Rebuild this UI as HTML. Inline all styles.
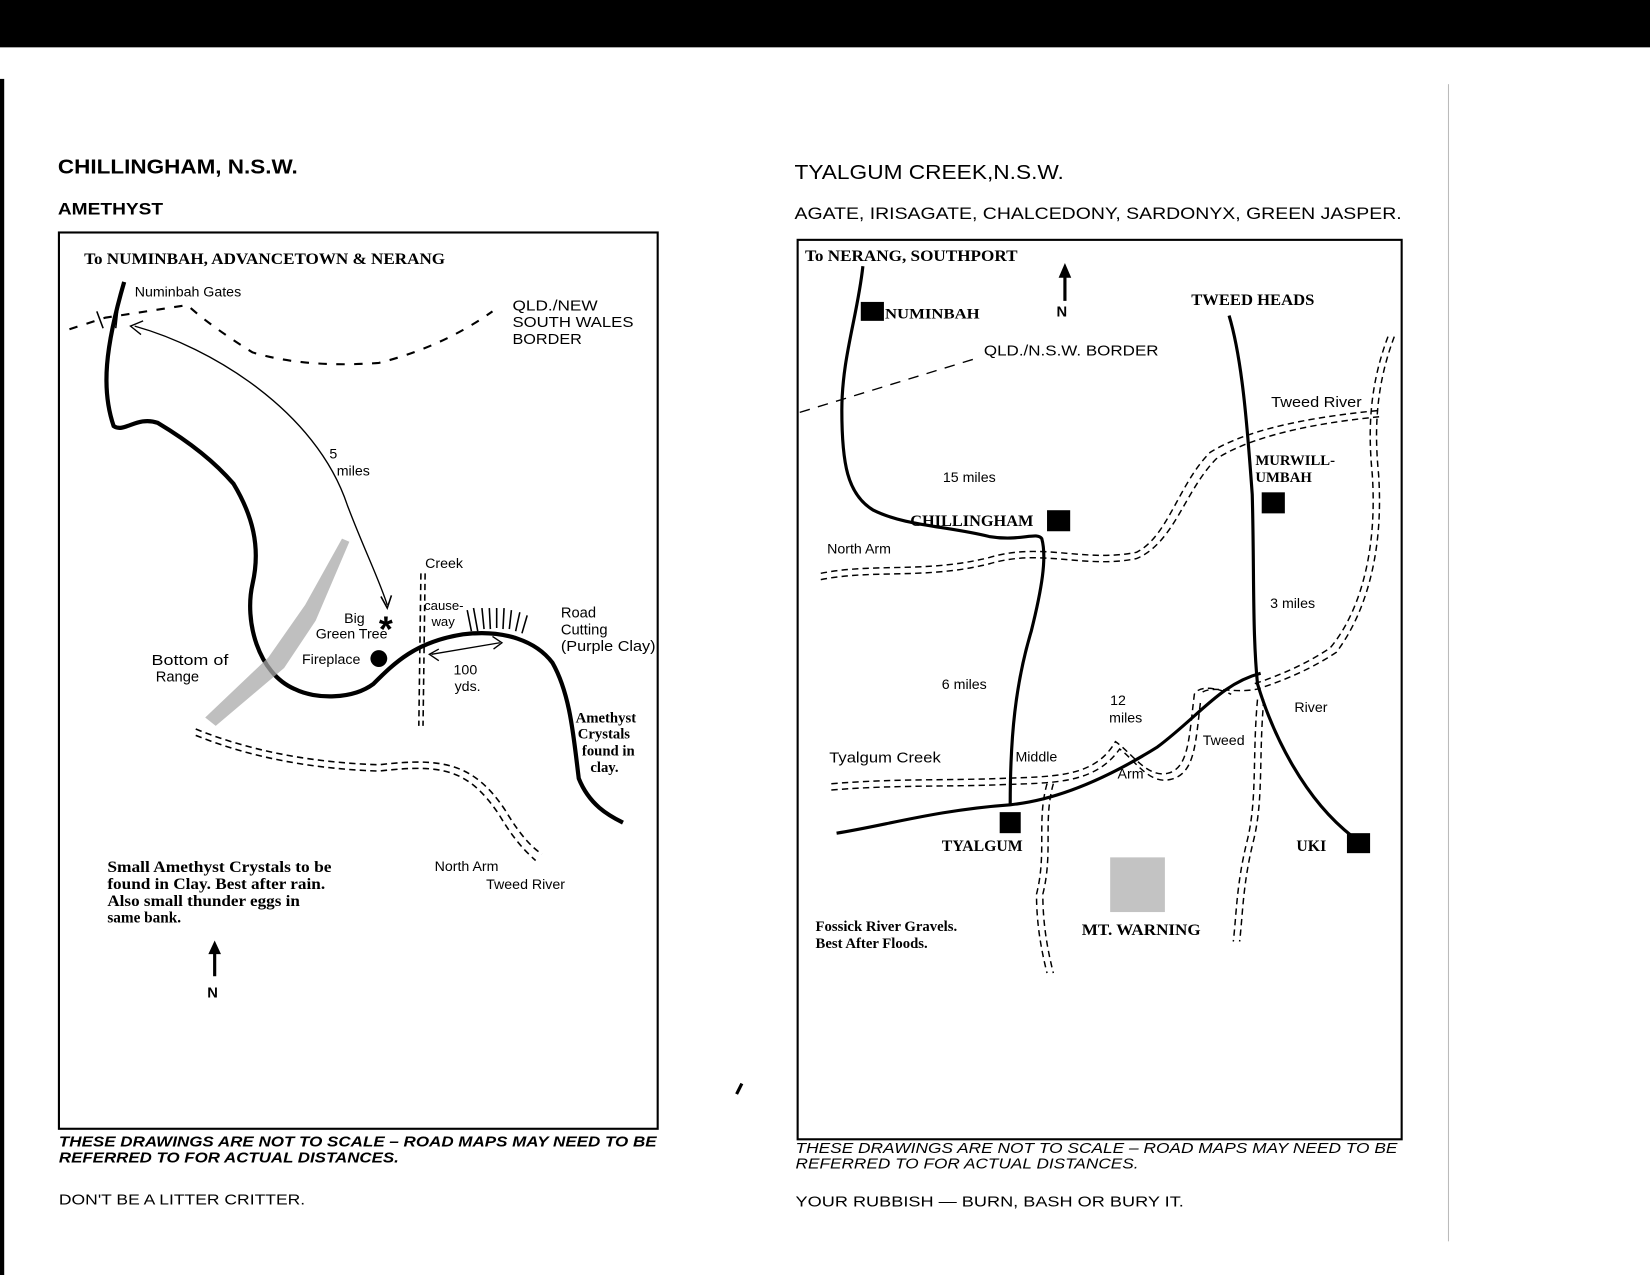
<!DOCTYPE html>
<html><head><meta charset="utf-8"><style>
html,body{margin:0;padding:0;background:#fff;}
svg{display:block;}
text{font-family:"Liberation Sans",sans-serif;fill:#000;}
.s{font-family:"Liberation Serif",serif;font-weight:bold;}
</style></head><body>
<svg width="1650" height="1275" viewBox="0 0 1568 1212" preserveAspectRatio="none" xmlns="http://www.w3.org/2000/svg">
<rect x="0" y="0" width="1568" height="45" fill="#000"/>
<rect x="0" y="75" width="4" height="1137" fill="#000"/>
<rect x="1376" y="80" width="1" height="1100" fill="#bbb"/>
<text x="55" y="165" font-size="19" font-weight="bold" textLength="228" lengthAdjust="spacingAndGlyphs">CHILLINGHAM, N.S.W.</text>
<text x="55" y="204" font-size="16" font-weight="bold" textLength="100" lengthAdjust="spacingAndGlyphs">AMETHYST</text>
<text x="755" y="170" font-size="19" textLength="256" lengthAdjust="spacingAndGlyphs">TYALGUM CREEK,N.S.W.</text>
<text x="755" y="208" font-size="16" textLength="577" lengthAdjust="spacingAndGlyphs">AGATE, IRISAGATE, CHALCEDONY, SARDONYX, GREEN JASPER.</text>
<rect x="56" y="221" width="569" height="852" fill="none" stroke="#000" stroke-width="2"/>
<rect x="758" y="228" width="574" height="855" fill="none" stroke="#000" stroke-width="2"/>

<text x="80" y="251" class="s" font-size="15.5" textLength="343" lengthAdjust="spacingAndGlyphs">To NUMINBAH, ADVANCETOWN &amp; NERANG</text>
<text x="128" y="282" font-size="13.5">Numinbah Gates</text>
<text x="487" y="295" font-size="14" textLength="81" lengthAdjust="spacingAndGlyphs">QLD./NEW</text>
<text x="487" y="311" font-size="14" textLength="115" lengthAdjust="spacingAndGlyphs">SOUTH WALES</text>
<text x="487" y="327" font-size="14" textLength="66" lengthAdjust="spacingAndGlyphs">BORDER</text>
<path d="M66,313 L100,302 L178,290 Q200,310 240,335 Q290,350 360,345 Q420,330 468,296" fill="none" stroke="#000" stroke-width="2" stroke-dasharray="8,9"/>
<path d="M92,296 L98,312 M112,294 L110,312" stroke="#000" stroke-width="1.5"/>
<path d="M118,268 C100,330 96,370 108,405 C118,412 130,395 150,402 C180,420 205,440 222,460 C240,490 248,520 240,555 C232,590 245,640 280,655 C300,665 335,665 355,650 C375,630 395,610 440,603 C480,598 510,610 525,630 C542,660 545,700 550,740 C560,765 578,775 592,782" fill="none" stroke="#000" stroke-width="4"/>
<path d="M128,310 C200,330 300,390 330,480 C345,520 360,550 368,575" fill="none" stroke="#000" stroke-width="1.3"/>
<path d="M136,305 L124,310 L134,318" fill="none" stroke="#000" stroke-width="1.3"/>
<path d="M362,567 L368,578 L372,566" fill="none" stroke="#000" stroke-width="1.5"/>
<text x="313" y="436" font-size="13.5">5</text>
<text x="320" y="452" font-size="13.5">miles</text>
<path d="M325,512 L332,515 L300,590 L270,635 L205,690 L195,682 L255,625 L290,575 Z" fill="#aaa" opacity="0.75"/>
<text x="144" y="632" font-size="14" textLength="73" lengthAdjust="spacingAndGlyphs">Bottom of</text>
<text x="148" y="648" font-size="14">Range</text>
<text x="404" y="540" font-size="13.5">Creek</text>
<text x="403" y="580" font-size="12.5">cause-</text>
<text x="410" y="595" font-size="12.5">way</text>
<text x="327" y="592" font-size="13.5">Big</text>
<text x="300" y="607" font-size="13.5">Green Tree</text>
<text x="360" y="610" font-size="34" font-weight="bold">*</text>
<text x="287" y="631" font-size="13.5">Fireplace</text>
<circle cx="360" cy="626" r="8" fill="#000"/>
<path d="M400,545 L398,690 M404,545 L402,690" stroke="#000" stroke-width="1.5" stroke-dasharray="6,4"/>
<path d="M410,622 L475,611" stroke="#000" stroke-width="1.3"/>
<path d="M417,617 L408,622 L417,628 M468,605 L477,611 L469,617" fill="none" stroke="#000" stroke-width="1.3"/>
<text x="431" y="641" font-size="13.5">100</text>
<text x="432" y="657" font-size="13.5">yds.</text>
<path d="M448,600 L444,580 M454,600 L450,578 M460,598 L458,578 M466,598 L465,578 M472,597 L472,578 M478,598 L479,578 M484,598 L486,580 M490,600 L494,582 M496,602 L501,585" stroke="#000" stroke-width="1.5"/>
<text x="533" y="587" font-size="14">Road</text>
<text x="533" y="603" font-size="14">Cutting</text>
<text x="533" y="619" font-size="14" textLength="90" lengthAdjust="spacingAndGlyphs">(Purple Clay)</text>
<text x="547" y="687" class="s" font-size="14">Amethyst</text>
<text x="549" y="702" class="s" font-size="14">Crystals</text>
<text x="553" y="718" class="s" font-size="14">found in</text>
<text x="561" y="734" class="s" font-size="14">clay.</text>
<g fill="none" stroke="#000" stroke-width="1.5" stroke-dasharray="6,4">
<path d="M186,693 C240,715 300,725 360,727 C420,720 450,725 480,770 C495,795 505,805 515,812"/>
<path d="M186,699 C240,721 300,731 360,733 C420,726 445,731 474,774 C489,799 499,809 509,818"/>
</g>
<text x="413" y="828" font-size="13.5">North Arm</text>
<text x="462" y="845" font-size="13.5">Tweed River</text>
<text x="102" y="829" class="s" font-size="14.5" textLength="213" lengthAdjust="spacingAndGlyphs">Small Amethyst Crystals to be</text>
<text x="102" y="845" class="s" font-size="14.5" textLength="207" lengthAdjust="spacingAndGlyphs">found in Clay. Best after rain.</text>
<text x="102" y="861" class="s" font-size="14.5" textLength="183" lengthAdjust="spacingAndGlyphs">Also small thunder eggs in</text>
<text x="102" y="877" class="s" font-size="14.5">same bank.</text>
<path d="M204,928 L204,905" stroke="#000" stroke-width="3"/>
<path d="M198,907 L204,894 L210,907 Z" fill="#000"/>
<text x="197" y="948" font-size="14" font-weight="bold">N</text>
<text x="56" y="1090" font-size="14" font-style="italic" font-weight="bold" textLength="568" lengthAdjust="spacingAndGlyphs">THESE DRAWINGS ARE NOT TO SCALE – ROAD MAPS MAY NEED TO BE</text>
<text x="56" y="1105" font-size="14" font-style="italic" font-weight="bold" textLength="323" lengthAdjust="spacingAndGlyphs">REFERRED TO FOR ACTUAL DISTANCES.</text>
<text x="56" y="1145" font-size="14" textLength="234" lengthAdjust="spacingAndGlyphs">DON'T BE A LITTER CRITTER.</text>

<text x="765" y="248" class="s" font-size="15.5" textLength="202" lengthAdjust="spacingAndGlyphs">To NERANG, SOUTHPORT</text>
<path d="M1012,286 L1012,262" stroke="#000" stroke-width="3"/>
<path d="M1006,264 L1012,250 L1018,264 Z" fill="#000"/>
<text x="1004" y="301" font-size="14" font-weight="bold">N</text>
<rect x="818" y="287" width="22" height="18" fill="#000"/>
<text x="841" y="303" class="s" font-size="14" textLength="90" lengthAdjust="spacingAndGlyphs">NUMINBAH</text>
<text x="1132" y="290" class="s" font-size="15.5" textLength="117" lengthAdjust="spacingAndGlyphs">TWEED HEADS</text>
<path d="M760,392 L930,340" stroke="#000" stroke-width="1.3" stroke-dasharray="10,8"/>
<text x="935" y="338" font-size="14" textLength="166" lengthAdjust="spacingAndGlyphs">QLD./N.S.W. BORDER</text>
<path d="M820,253 C815,300 800,340 800,390 C800,440 805,470 830,485 C860,500 900,500 940,510 C970,515 985,505 990,512 C995,530 990,560 980,600 C965,650 960,700 960,765" fill="none" stroke="#000" stroke-width="3"/>
<text x="896" y="458" font-size="13.5">15 miles</text>
<text x="865" y="500" class="s" font-size="15.5" textLength="117" lengthAdjust="spacingAndGlyphs">CHILLINGHAM</text>
<rect x="995" y="485" width="22" height="20" fill="#000"/>
<text x="895" y="655" font-size="13.5">6 miles</text>
<path d="M1168,300 C1180,340 1185,400 1190,470 C1192,540 1190,600 1195,650 C1210,700 1240,760 1285,795" fill="none" stroke="#000" stroke-width="3"/>
<text x="1193" y="442" class="s" font-size="14">MURWILL-</text>
<text x="1193" y="458" class="s" font-size="14">UMBAH</text>
<rect x="1199" y="468" width="22" height="20" fill="#000"/>
<text x="1207" y="578" font-size="13.5">3 miles</text>
<text x="1208" y="387" font-size="14" textLength="86" lengthAdjust="spacingAndGlyphs">Tweed River</text>
<path d="M795,792 C840,785 890,770 960,765 C1010,760 1060,735 1100,710 C1140,680 1160,650 1198,640" fill="none" stroke="#000" stroke-width="3"/>
<text x="1055" y="670" font-size="13.5">12</text>
<text x="1054" y="687" font-size="13.5">miles</text>
<text x="1230" y="677" font-size="13.5">River</text>
<text x="1143" y="708" font-size="13.5">Tweed</text>
<text x="965" y="724" font-size="13.5">Middle</text>
<text x="1062" y="740" font-size="13.5">Arm</text>
<text x="788" y="725" font-size="14" textLength="106" lengthAdjust="spacingAndGlyphs">Tyalgum Creek</text>
<text x="786" y="526" font-size="13.5">North Arm</text>
<rect x="950" y="772" width="20" height="20" fill="#000"/>
<text x="895" y="809" class="s" font-size="15">TYALGUM</text>
<rect x="1280" y="792" width="22" height="19" fill="#000"/>
<text x="1232" y="809" class="s" font-size="15">UKI</text>
<rect x="1055" y="815" width="52" height="52" fill="#aaa" opacity="0.7"/>
<text x="1028" y="889" class="s" font-size="15.5" textLength="113" lengthAdjust="spacingAndGlyphs">MT. WARNING</text>
<text x="775" y="885" class="s" font-size="14">Fossick River Gravels.</text>
<text x="775" y="901" class="s" font-size="14">Best After Floods.</text>
<g fill="none" stroke="#000" stroke-width="1.4" stroke-dasharray="6,4">
<path d="M780,545 C830,535 880,545 940,530 C990,515 1030,535 1080,525 C1110,510 1120,460 1150,430 C1190,405 1260,395 1312,390"/>
<path d="M780,551 C830,541 880,551 940,536 C990,521 1030,541 1080,531 C1116,516 1126,466 1156,436 C1196,411 1262,401 1312,396"/>
<path d="M1325,320 C1310,360 1305,400 1310,450 C1315,520 1300,580 1270,620 C1240,640 1210,650 1195,655 C1170,660 1150,650 1140,660"/>
<path d="M1319,320 C1304,360 1299,400 1304,450 C1309,520 1294,580 1264,616 C1234,636 1204,646 1189,651"/>
<path d="M790,745 C850,740 900,742 950,740 C1000,738 1040,740 1060,705 C1075,715 1090,740 1110,735 C1130,730 1130,700 1135,660 C1140,650 1160,655 1170,660"/>
<path d="M790,751 C850,746 900,748 950,746 C1000,744 1040,746 1064,712 C1078,722 1092,746 1112,741 C1136,736 1136,706 1141,666"/>
<path d="M995,745 C985,780 995,810 985,850 C985,880 990,905 995,925"/>
<path d="M1001,745 C991,780 1001,810 991,850 C991,880 996,905 1001,925"/>
<path d="M1195,665 C1190,720 1195,760 1185,800 C1175,840 1175,870 1172,895"/>
<path d="M1201,665 C1196,720 1201,760 1191,800 C1181,840 1181,870 1178,895"/>
</g>
<text x="756" y="1096" font-size="14" font-style="italic" textLength="572" lengthAdjust="spacingAndGlyphs">THESE DRAWINGS ARE NOT TO SCALE – ROAD MAPS MAY NEED TO BE</text>
<text x="756" y="1111" font-size="14" font-style="italic" textLength="326" lengthAdjust="spacingAndGlyphs">REFERRED TO FOR ACTUAL DISTANCES.</text>
<text x="756" y="1147" font-size="14" textLength="369" lengthAdjust="spacingAndGlyphs">YOUR RUBBISH — BURN, BASH OR BURY IT.</text>
<path d="M700,1040 L705,1030" stroke="#000" stroke-width="3"/>
</svg>
</body></html>
